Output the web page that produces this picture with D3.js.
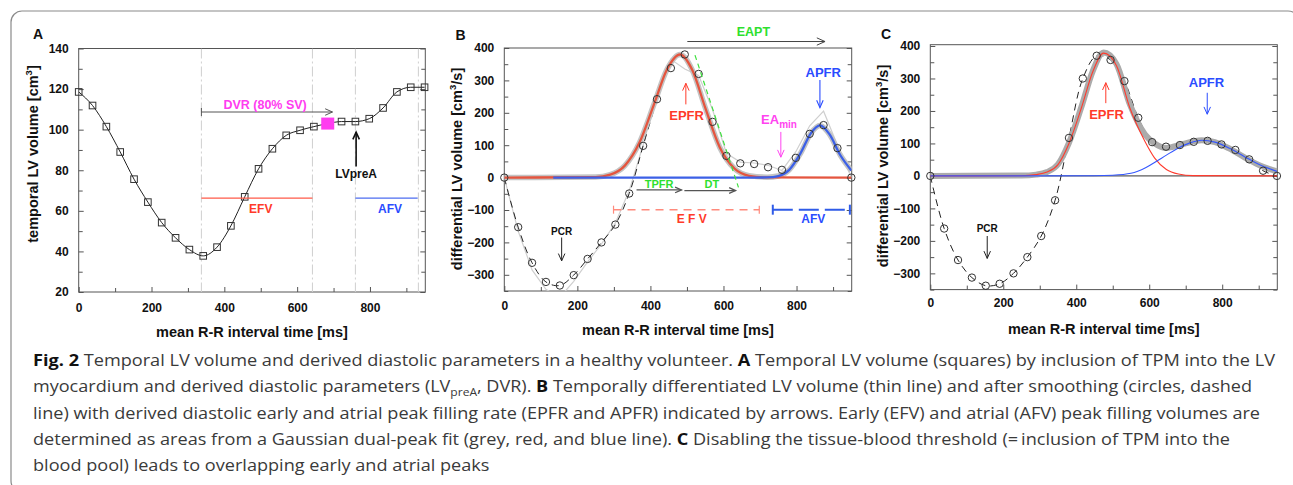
<!DOCTYPE html>
<html>
<head>
<meta charset="utf-8">
<script src="https://cdn.jsdelivr.net/npm/d3@7"></script>
<style>
  body { margin: 0; background: #fff; }
  svg text { font-family: "Liberation Sans", Arial, Helvetica, sans-serif; }
  .cap { font-family: "Open Sans", "Noto Sans", sans-serif; font-size: 16.5px; fill: #3a3a3a; }
</style>
</head>
<body>
<svg id="fig" width="1293" height="485"></svg>
<script>
// sample times (ms) shared by the three panels
const timeMs = [0, 38, 76, 114, 152, 190, 228, 266, 304, 342, 380, 418, 456, 494, 532, 570, 608, 646, 684, 722, 760, 798, 836, 874, 912, 950];

// A: temporal LV volume (cm3)
const lvVolume = [118.6, 111.9, 101.5, 89, 75.6, 64.3, 54.2, 46.7, 40.9, 37.8, 42.1, 52.6, 66.9, 80.7, 90.6, 97.2, 99.7, 101.5, 103, 104, 104, 105.4, 110.7, 118.6, 120.9, 120.9];
const dvrIndex = 18;
const aMarkerMs = [337, 642, 760, 933];

// B: differential LV volume (cm3/s), smoothed circles and raw thin line
const dVolB = [0, -153, -263, -322, -333, -301, -251, -200, -145, -49, 98, 242, 338, 380, 320, 172, 67, 44, 42, 32, 24, 61, 135, 162, 91, 0];
const rawB = [0, -165, -285, -345, -370, -320, -260, -205, -140, -40, 100, 260, 365, 335, 315, 210, 75, 48, 45, 38, 22, 80, 160, 205, 100, 0];

// B: gaussian dual-peak fit
const fitRedTB = [0, 250, 290, 330, 370, 410, 445, 481, 515, 550, 590, 630, 670, 710, 950];
const fitRedB = [0, 1.6, 9, 37, 108, 227, 333, 380, 331, 216, 93, 28, 5.5, 0.8, 0];
const fitBlueTB = [134, 680, 720, 750, 780, 810, 840, 864, 890, 920, 950];
const fitBlueB = [0, 0, 0.6, 4.8, 24, 73, 138, 161, 134, 69, 22];
const fitSumTB = [0, 250, 290, 330, 370, 410, 445, 481, 515, 550, 590, 630, 670, 720, 750, 780, 810, 840, 864, 890, 920, 950];
const fitSumB = [0, 1.6, 9, 37, 108, 227, 333, 380, 331, 216, 93, 28, 6, 1.4, 5, 24, 73, 138, 161, 134, 69, 22];

// C: without tissue-blood threshold
const dVolC = [0, -162, -259, -313, -338, -332, -300, -250, -185, -75, 117, 300, 370, 357, 292, 179, 104, 90, 95, 105, 108, 97, 80, 51, 16, 0];
const fitRedTC = [0, 250, 290, 320, 350, 380, 414, 445, 475, 510, 547, 588, 615, 647, 680, 720, 950];
const fitRedC = [0, 0.5, 4, 12, 35, 100, 209, 320, 378, 340, 209, 107, 55, 20, 6, 1, 0];
const fitBlueTC = [0, 450, 500, 550, 590, 620, 647, 680, 710, 744, 780, 820, 860, 900, 950];
const fitBlueC = [0, 0.5, 2, 8, 25, 45, 64, 86, 101, 110, 104, 85, 60, 36, 14];
const fitSumTC = [0, 250, 290, 320, 350, 380, 414, 445, 475, 510, 547, 588, 615, 647, 686, 720, 744, 780, 820, 860, 900, 950];
const fitSumC = [0, 1, 4, 12, 36, 102, 212, 322, 380, 345, 220, 128, 100, 86, 96, 106, 110, 104, 84, 58, 34, 14];

// ticks
const xTicks = [0, 200, 400, 600, 800];
const xMinor = [100, 300, 500, 700, 900];
const aYTicks = [20, 40, 60, 80, 100, 120, 140];
const aYMinor = [30, 50, 70, 90, 110, 130];
const bYTicks = [-300, -200, -100, 0, 100, 200, 300, 400];
const bYMinor = [-350, -250, -150, -50, 50, 150, 250, 350];

const captionLines = [
  [{t: "Fig. 2", b: true}, {t: "  Temporal LV volume and derived diastolic parameters in a healthy volunteer. "}, {t: "A", b: true}, {t: " Temporal LV volume (squares) by inclusion of TPM into the LV"}],
  [{t: "myocardium and derived diastolic parameters (LV"}, {t: "preA", sub: true}, {t: ", DVR). "}, {t: "B", b: true}, {t: " Temporally differentiated LV volume (thin line) and after smoothing (circles, dashed"}],
  [{t: "line) with derived diastolic early and atrial peak filling rate (EPFR and APFR) indicated by arrows. Early (EFV) and atrial (AFV) peak filling volumes are"}],
  [{t: "determined as areas from a Gaussian dual-peak fit (grey, red, and blue line). "}, {t: "C", b: true}, {t: " Disabling the tissue-blood threshold (=\u2009inclusion of TPM into the"}],
  [{t: "blood pool) leads to overlapping early and atrial peaks"}]
];

const svg = d3.select("#fig");

// rounded figure border (only top/left visible)
svg.append("rect")
   .attr("x", 11).attr("y", 11).attr("width", 1288).attr("height", 481)
   .attr("rx", 11).attr("fill", "none").attr("stroke", "#8a8a8a").attr("stroke-width", 1.2);

function panel(box, xDom, yDom, yTicks, yMinor, xPad) {
  const g = svg.append("g");
  const x = d3.scaleLinear().domain(xDom).range([box.l, box.r]);
  const y = d3.scaleLinear().domain(yDom).range([box.b, box.t]);

  const axes = [
    [d3.axisLeft(y).tickValues(yMinor).tickSize(-4).tickFormat(""), `translate(${box.l},0)`],
    [d3.axisRight(y).tickValues(yMinor).tickSize(-4).tickFormat(""), `translate(${box.r},0)`],
    [d3.axisRight(y).tickValues(yTicks).tickSize(-5).tickFormat(""), `translate(${box.r},0)`],
    [d3.axisBottom(x).tickValues(xMinor).tickSize(-4).tickFormat(""), `translate(0,${box.b})`],
    [d3.axisLeft(y).tickValues(yTicks).tickSize(-5).tickPadding(10), `translate(${box.l},0)`],
    [d3.axisBottom(x).tickValues(xTicks).tickSize(-5).tickPadding(xPad), `translate(0,${box.b})`]
  ];
  axes.forEach(([ax, tr]) => {
    g.append("g").attr("transform", tr).call(ax)
     .attr("font-family", null).attr("font-size", 12).attr("font-weight", "bold");
  });
  g.selectAll(".domain").remove();
  g.selectAll(".tick line").attr("stroke", "#555");
  g.selectAll(".tick text").attr("fill", "#111");

  g.append("rect")
   .attr("x", box.l).attr("y", box.t)
   .attr("width", box.r - box.l).attr("height", box.b - box.t)
   .attr("fill", "none").attr("stroke", "#555").attr("stroke-width", 1);

  const id = "clip" + Math.round(box.l);
  svg.append("clipPath").attr("id", id).append("rect")
     .attr("x", box.l).attr("y", box.t)
     .attr("width", box.r - box.l).attr("height", box.b - box.t);
  const plot = g.append("g").attr("clip-path", `url(#${id})`);
  return {g, plot, x, y, box};
}

function txt(g, x, y, s, color, size) {
  return g.append("text").attr("x", x).attr("y", y)
          .attr("text-anchor", "middle").attr("font-size", size)
          .attr("font-weight", "bold").attr("fill", color).text(s);
}

function arrow(g, x1, y1, x2, y2, color, w, h) {
  g.append("line").attr("x1", x1).attr("y1", y1).attr("x2", x2).attr("y2", y2)
   .attr("stroke", color).attr("stroke-width", w);
  const a = Math.atan2(y2 - y1, x2 - x1), s = 0.42;
  g.append("path")
   .attr("d", `M${x2 - h * Math.cos(a - s)},${y2 - h * Math.sin(a - s)}L${x2},${y2}L${x2 - h * Math.cos(a + s)},${y2 - h * Math.sin(a + s)}`)
   .attr("fill", "none").attr("stroke", color).attr("stroke-width", w);
}

function titles(p, xt, yt, xTitleY, yTitleX, yTitleY, label, labelX, labelY) {
  txt(p.g, (p.box.l + p.box.r) / 2, xTitleY, xt, "#111", 14.5);
  const t = p.g.append("text")
     .attr("transform", `translate(${yTitleX},${yTitleY}) rotate(-90)`)
     .attr("text-anchor", "middle").attr("font-size", 14.5).attr("font-weight", "bold").attr("fill", "#111");
  t.append("tspan").text(yt[0]);
  t.append("tspan").attr("dy", -6).attr("font-size", 9.5).text("3");
  t.append("tspan").attr("dy", 6).text(yt[1]);
  p.g.append("text").attr("x", labelX).attr("y", labelY).attr("font-size", 14)
     .attr("font-weight", "bold").attr("fill", "#111").text(label);
}

// ---------------- Panel A ----------------
const A = panel({l: 78.7, r: 425.3, t: 48.5, b: 292}, [0, 952], [20, 140], aYTicks, aYMinor, 11);
titles(A, "mean R-R interval time [ms]", ["temporal LV volume [cm", "]"], 337, 37.5, 154, "A", 33, 38.5);

A.plot.selectAll(".vline").data(aMarkerMs).join("line")
  .attr("x1", d => A.x(d)).attr("x2", d => A.x(d))
  .attr("y1", A.box.t).attr("y2", A.box.b)
  .attr("stroke", "#cfcfcf").attr("stroke-dasharray", "10,3,2,3");

A.plot.append("path")
  .datum(lvVolume)
  .attr("d", d3.line().x((d, i) => A.x(timeMs[i])).y(d => A.y(d)).curve(d3.curveMonotoneX))
  .attr("fill", "none").attr("stroke", "#222").attr("stroke-width", 1);

A.g.selectAll(".sq").data(lvVolume).join("rect")
  .attr("x", (d, i) => A.x(timeMs[i]) - 3.3).attr("y", d => A.y(d) - 3.3)
  .attr("width", 6.6).attr("height", 6.6)
  .attr("fill", "none").attr("stroke", "#333").attr("stroke-width", 1);

A.g.append("rect")
  .attr("x", A.x(timeMs[dvrIndex]) - 6.5).attr("y", A.y(lvVolume[dvrIndex]) - 6)
  .attr("width", 13).attr("height", 12).attr("fill", "#ff3cf0");

// DVR bar
A.g.append("line").attr("x1", A.x(337)).attr("x2", A.x(337))
  .attr("y1", A.y(108.7) - 4).attr("y2", A.y(108.7) + 4).attr("stroke", "#555");
arrow(A.g, A.x(337), A.y(108.7), A.x(697), A.y(108.7), "#555", 1, 8);
txt(A.g, A.x(512), A.y(110.2), "DVR (80% SV)", "#ff3cf0", 12.5);
arrow(A.g, A.x(762), A.y(81.8), A.x(762), A.y(98.8), "#111", 1.6, 8);
txt(A.g, A.x(762), A.y(76), "LVpreA", "#111", 12);
A.g.append("line").attr("x1", A.x(337)).attr("x2", A.x(642))
  .attr("y1", A.y(66.3)).attr("y2", A.y(66.3)).attr("stroke", "#ff5a48").attr("stroke-width", 1.3);
txt(A.g, A.x(500), A.y(59), "EFV", "#ff3a2a", 12);
A.g.append("line").attr("x1", A.x(760)).attr("x2", A.x(931))
  .attr("y1", A.y(66.3)).attr("y2", A.y(66.3)).attr("stroke", "#4d6cf0").attr("stroke-width", 1.3);
txt(A.g, A.x(855), A.y(59), "AFV", "#2a4cff", 12);

// ---------------- Panel B ----------------
const B = panel({l: 504.3, r: 851.7, t: 48, b: 291}, [0, 951], [-350, 400], bYTicks, bYMinor, 10);
titles(B, "mean R-R interval time [ms]", ["differential LV volume [cm", "/s]"], 335, 461.5, 169, "B", 455.5, 39.5);

const lineXY = (p, ts) => d3.line().x((d, i) => p.x(ts[i])).y(d => p.y(d));

B.plot.append("path").datum(rawB)
  .attr("d", lineXY(B, timeMs).curve(d3.curveLinear))
  .attr("fill", "none").attr("stroke", "#cfcfcf").attr("stroke-width", 1.2);
B.plot.append("path").datum(dVolB.slice(0, 12))
  .attr("d", lineXY(B, timeMs).curve(d3.curveCatmullRom))
  .attr("fill", "none").attr("stroke", "#222").attr("stroke-width", 1).attr("stroke-dasharray", "7,5");
B.plot.append("path").datum(fitSumB)
  .attr("d", lineXY(B, fitSumTB).curve(d3.curveMonotoneX))
  .attr("fill", "none").attr("stroke", "#c4c4c4").attr("stroke-width", 5.5);
B.plot.append("path").datum(fitRedB)
  .attr("d", lineXY(B, fitRedTB).curve(d3.curveMonotoneX))
  .attr("fill", "none").attr("stroke", "#e4553f").attr("stroke-width", 2.3);
B.plot.append("path").datum(fitBlueB)
  .attr("d", lineXY(B, fitBlueTB).curve(d3.curveMonotoneX))
  .attr("fill", "none").attr("stroke", "#3c60e6").attr("stroke-width", 2.3);

B.g.selectAll(".ci").data(dVolB).join("circle")
  .attr("cx", (d, i) => B.x(timeMs[i])).attr("cy", d => B.y(d)).attr("r", 3.7)
  .attr("fill", "none").attr("stroke", "#333").attr("stroke-width", 1);

// B annotations
B.g.append("line").attr("x1", B.x(522)).attr("y1", B.y(378)).attr("x2", B.x(641)).attr("y2", B.y(-30))
  .attr("stroke", "#3ee03e").attr("stroke-width", 1.2).attr("stroke-dasharray", "5,4");
arrow(B.g, B.x(501), B.y(420), B.x(878), B.y(420), "#444", 1, 9);
txt(B.g, B.x(682), B.y(437), "EAPT", "#2ee02e", 12.5);
arrow(B.g, B.x(497), B.y(226), B.x(497), B.y(291), "#ff3a2a", 1, 8);
txt(B.g, B.x(499), B.y(177), "EPFR", "#ff3a2a", 13);
txt(B.g, B.x(873), B.y(310), "APFR", "#2a4cff", 13);
arrow(B.g, B.x(864), B.y(301), B.x(864), B.y(216), "#2a4cff", 1.1, 8);
const eaMin = txt(B.g, B.x(752), B.y(164), "EA", "#ff44f0", 13);
eaMin.append("tspan").attr("dy", 4).attr("font-size", 10).text("min");
arrow(B.g, B.x(757), B.y(141), B.x(757), B.y(63), "#ff44f0", 1, 8);
txt(B.g, B.x(157), B.y(-176), "PCR", "#111", 10);
arrow(B.g, B.x(157), B.y(-185), B.x(157), B.y(-257), "#222", 1, 8);
arrow(B.g, B.x(362), B.y(-38), B.x(485), B.y(-38), "#555", 1.3, 7);
arrow(B.g, B.x(493), B.y(-40), B.x(633), B.y(-40), "#555", 1.3, 7);
txt(B.g, B.x(424), B.y(-32), "TPFR", "#2ee02e", 11);
txt(B.g, B.x(568), B.y(-32), "DT", "#2ee02e", 11);
// filling volume bars
B.g.append("line").attr("x1", B.x(299)).attr("x2", B.x(698)).attr("y1", B.y(-99)).attr("y2", B.y(-99))
  .attr("stroke", "#ff8a7c").attr("stroke-width", 1.4).attr("stroke-dasharray", "8,6");
[299, 698].forEach(v => B.g.append("line").attr("x1", B.x(v)).attr("x2", B.x(v))
  .attr("y1", B.y(-99) - 4).attr("y2", B.y(-99) + 4).attr("stroke", "#ff8a7c").attr("stroke-width", 1.2));
txt(B.g, B.x(513), B.y(-141), "E F V", "#ff3a2a", 12);
B.g.append("line").attr("x1", B.x(735)).attr("x2", B.x(946)).attr("y1", B.y(-99)).attr("y2", B.y(-99))
  .attr("stroke", "#2f5be8").attr("stroke-width", 2).attr("stroke-dasharray", "20,6");
[735, 946].forEach(v => B.g.append("line").attr("x1", B.x(v)).attr("x2", B.x(v))
  .attr("y1", B.y(-99) - 5).attr("y2", B.y(-99) + 5).attr("stroke", "#2f5be8").attr("stroke-width", 2));
txt(B.g, B.x(846), B.y(-140), "AFV", "#2a4cff", 12);

// ---------------- Panel C ----------------
const C = panel({l: 930.3, r: 1277.3, t: 44.7, b: 289.6}, [0, 951], [-350, 404], bYTicks, bYMinor, 9);
titles(C, "mean R-R interval time [ms]", ["differential LV volume [cm", "/s]"], 333.5, 887.5, 166, "C", 881, 38.5);

C.plot.append("line").attr("x1", C.x(0)).attr("x2", C.x(951)).attr("y1", C.y(0)).attr("y2", C.y(0))
  .attr("stroke", "#333").attr("stroke-width", 1);
C.plot.append("path").datum(dVolC)
  .attr("d", lineXY(C, timeMs).curve(d3.curveCatmullRom))
  .attr("fill", "none").attr("stroke", "#222").attr("stroke-width", 1).attr("stroke-dasharray", "7,5");
C.plot.append("path").datum(fitSumC)
  .attr("d", lineXY(C, fitSumTC).curve(d3.curveMonotoneX))
  .attr("fill", "none").attr("stroke", "#ababab").attr("stroke-width", 6);
C.plot.append("path").datum(fitRedC)
  .attr("d", lineXY(C, fitRedTC).curve(d3.curveMonotoneX))
  .attr("fill", "none").attr("stroke", "#ff3b2e").attr("stroke-width", 1.1);
C.plot.append("path").datum(fitBlueC)
  .attr("d", lineXY(C, fitBlueTC).curve(d3.curveMonotoneX))
  .attr("fill", "none").attr("stroke", "#3457ff").attr("stroke-width", 1.1);

C.g.selectAll(".ci").data(dVolC).join("circle")
  .attr("cx", (d, i) => C.x(timeMs[i])).attr("cy", d => C.y(d)).attr("r", 3.7)
  .attr("fill", "none").attr("stroke", "#333").attr("stroke-width", 1);

arrow(C.g, C.x(481), C.y(224), C.x(481), C.y(287), "#ff3a2a", 1, 8);
txt(C.g, C.x(483), C.y(176), "EPFR", "#ff3a2a", 13);
txt(C.g, C.x(757), C.y(274), "APFR", "#2a4cff", 13);
arrow(C.g, C.x(759), C.y(256), C.x(759), C.y(190), "#2a4cff", 1, 8);
txt(C.g, C.x(156), C.y(-173), "PCR", "#111", 10);
arrow(C.g, C.x(156), C.y(-185), C.x(156), C.y(-254), "#222", 1, 8);

// ---------------- Caption ----------------
const captionEnds = [1275, 1252, 1260, 1230];
const capStart = 33;
const capNodes = captionLines.map((segs, i) => {
  const t = svg.append("text").attr("class", "cap").attr("x", capStart).attr("y", 366 + i * 26.3);
  segs.forEach(s => {
    const sp = t.append("tspan").text(s.t);
    if (s.b) sp.attr("font-weight", 700).attr("fill", "#111");
    if (s.sub) sp.attr("font-size", 11).attr("dy", 4);
    else if (i === 1 && s.t.startsWith(",")) sp.attr("dy", -4);
  });
  return t;
});
const ks = [];
capNodes.forEach((t, i) => {
  const natural = t.node().getComputedTextLength();
  if (i < captionEnds.length) {
    ks.push((captionEnds[i] - capStart) / natural);
    t.attr("textLength", captionEnds[i] - capStart).attr("lengthAdjust", "spacingAndGlyphs");
  } else {
    t.attr("textLength", natural * d3.mean(ks)).attr("lengthAdjust", "spacingAndGlyphs");
  }
});
</script>
</body>
</html>
